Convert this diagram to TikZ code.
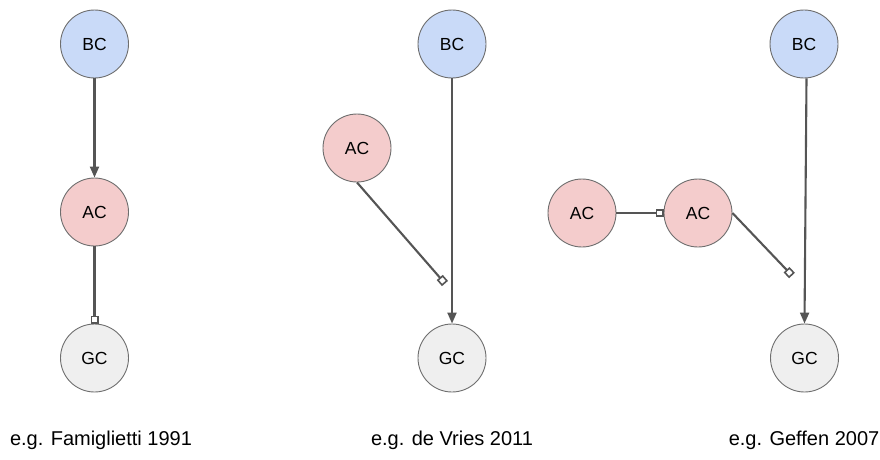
\documentclass[tikz,border=0pt]{standalone}
\usepackage{fontspec}
\setmainfont{Liberation Sans}
\usetikzlibrary{arrows.meta}
\definecolor{bcfill}{HTML}{C9DAF8}
\definecolor{acfill}{HTML}{F4CCCC}
\definecolor{gcfill}{HTML}{EFEFEF}
\definecolor{rim}{HTML}{6E6E6E}
\definecolor{wire}{HTML}{555555}
\tikzset{
  cell/.style={circle, draw=rim, line width=0.9pt, minimum size=68pt, inner sep=0pt,
    font=\fontsize{17.5}{20}\selectfont},
  bc/.style={cell, fill=bcfill},
  ac/.style={cell, fill=acfill},
  gc/.style={cell, fill=gcfill},
  excite/.style={draw=wire, line width=2.1pt, -{Triangle[length=11pt,width=9pt]}},
  gapjn/.style={draw=wire, line width=2.1pt, -{Square[open,length=8pt,width=8pt,line width=1.6pt]}},
  caption/.style={font=\fontsize{20}{23}\selectfont, text=black}
}
\begin{document}
\begin{tikzpicture}[x=1pt, y=-1pt]
  \useasboundingbox (0,0) rectangle (880,460);

  % Famiglietti 1991: BC -> AC -> GC (gap junction onto GC)
  \node[bc] (bc1) at (94.5,44) {BC};
  \node[ac] (ac1) at (94.5,212) {AC};
  \node[gc] (gc1) at (94.5,358) {GC};
  \draw[excite] (bc1.south) -- (ac1.north);
  \draw[gapjn] (ac1.south) -- (gc1.north);
  \node[caption] (cap1) at (101,440) {e.g. Famiglietti 1991};

  % de Vries 2011: BC -> GC, AC contacts the BC terminal
  \node[bc] (bc2) at (452,44) {BC};
  \node[ac] (ac2) at (357,148) {AC};
  \node[gc] (gc2) at (452,358) {GC};
  \coordinate (syn2) at (445,283.5);
  \draw[excite] (bc2.south) -- (gc2.north);
  \draw[gapjn] (ac2.south) -- (syn2);
  \node[caption] (cap2) at (452,440) {e.g. de Vries 2011};

  % Geffen 2007: BC -> GC, AC -- AC junction, AC contacts the BC terminal
  \node[bc] (bc3) at (804,44) {BC};
  \node[ac] (ac3a) at (582,213) {AC};
  \node[ac] (ac3b) at (698,213) {AC};
  \node[gc] (gc3) at (804.5,358) {GC};
  \coordinate (syn3) at (792,275.5);
  \draw[excite] ([xshift=2.5pt]bc3.south) -- (gc3.north);
  \draw[gapjn] (ac3a.east) -- (ac3b.west);
  \draw[gapjn] (ac3b.east) -- (syn3);
  \node[caption] (cap3) at (804,440) {e.g. Geffen 2007};
\end{tikzpicture}
\end{document}
